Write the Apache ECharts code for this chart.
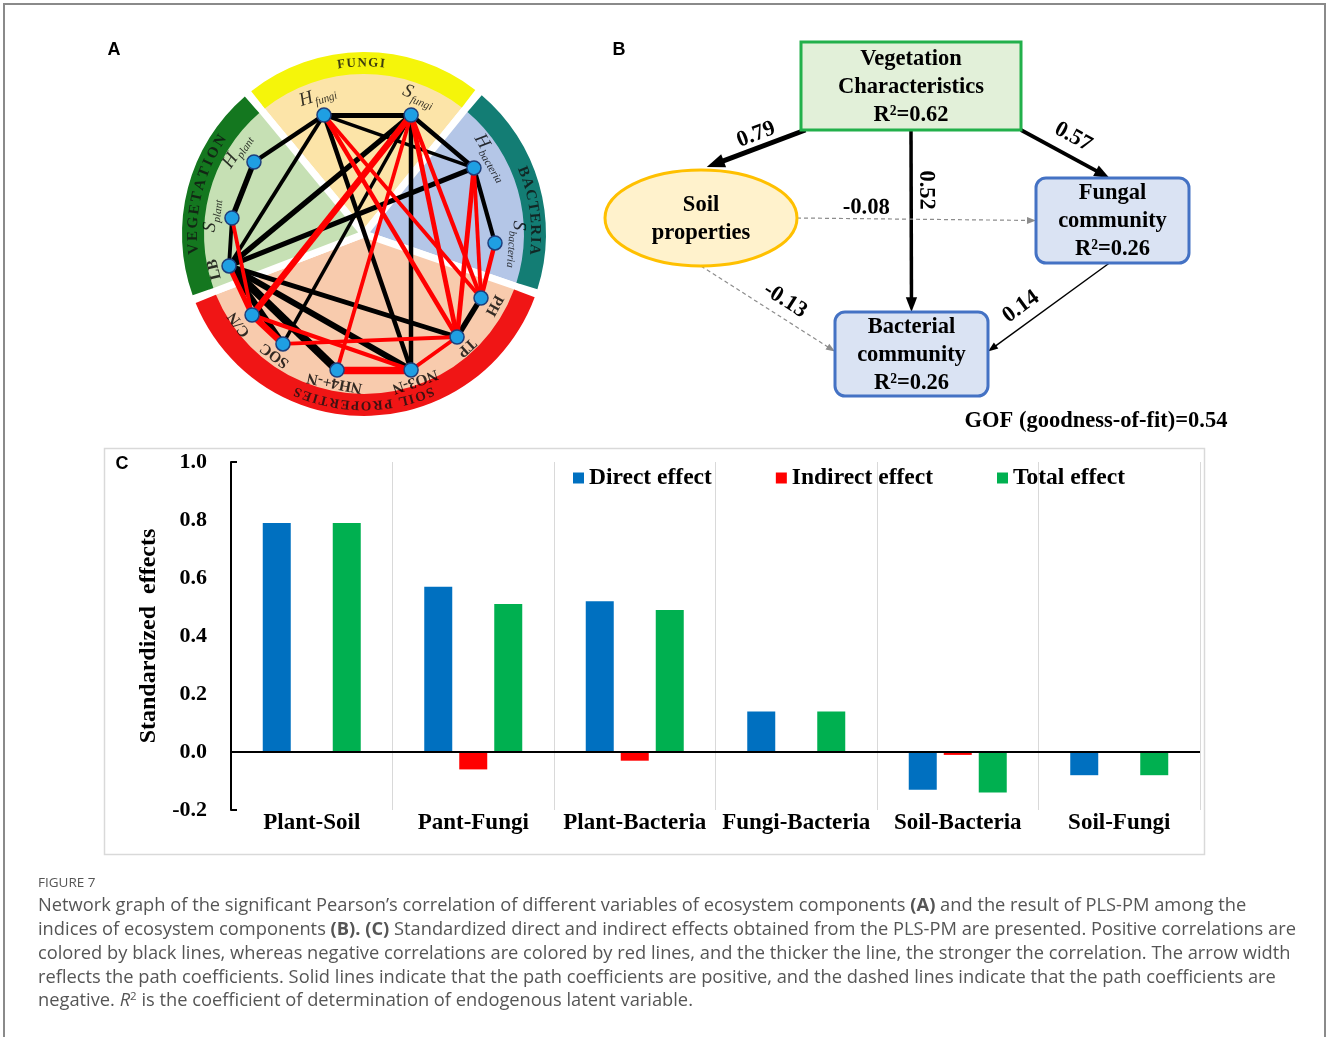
<!DOCTYPE html>
<html>
<head>
<meta charset="utf-8">
<script src="https://cdn.jsdelivr.net/npm/echarts@6/dist/echarts.min.js"></script>
<style>
  html, body { margin: 0; padding: 0; background: #ffffff; }
  #main { width: 1328px; height: 1037px; }
</style>
</head>
<body>
<div id="main"></div>
<script>
// ---------------- Panel A: correlation network ----------------
const groupNames = ['FUNGI', 'BACTERIA', 'SOIL PROPERTIES', 'VEGETATION'];
const groupSpans = [78.6, 70, 140, 71.4];          // degrees, clockwise from groupStart
const groupStart = 129.6;
const groupLabelAngle = [91, 8, 270, 166];
const groupLabelSize = [13, 15, 13.5, 15];
const groupLabelSpacing = [1.5, 1.5, 1.5, 2.5];
const bandColors = ['#f5f50a', '#137d74', '#f01515', '#14771f'];
const paleColors = ['#fce4a8', '#b4c6e7', '#f8cbad', '#c6e0b4'];

const netNodes  = ['Hf', 'Sf', 'Hb', 'Sb', 'PH', 'TP', 'NO3', 'NH4', 'SOC', 'CN', 'LB', 'Sp', 'Hp'];
const netRadius = [125.5, 128, 128.3, 131.3, 133.4, 138.8, 143.9, 138.7, 136.6, 138.2, 138.7, 133, 131.5];
const netAngle  = [108.6, 68.4, 31.0, 356.1, 331.3, 312.1, 289.1, 258.8, 233.6, 215.9, 193.3, 173.1, 146.8];
const netLabels = [
  '{i|H}{s|fungi}', '{i|S}{s|fungi}', '{i|H}{s|bacteria}', '{i|S}{s|bacteria}',
  '{b|PH}', '{b|TP}', '{b|NO3-N}', '{b|NH4+-N}', '{b|SOC}', '{b|C/N}', '{b|LB}',
  '{i|S}{s|plant}', '{i|H}{s|plant}'
];
// [source, target, Pearson r] : sign gives colour, magnitude gives width
const netLinks = [
  ['Hf', 'Sf', 0.72], ['Hf', 'Hp', 0.70], ['Hf', 'LB', 0.66], ['Hf', 'Hb', 0.64], ['Hf', 'NO3', 0.70],
  ['Sf', 'Hb', 0.70], ['Sf', 'LB', 0.76], ['Sf', 'SOC', 0.64], ['Sf', 'NO3', 0.70],
  ['Hb', 'LB', 0.74], ['Hb', 'Sb', 0.68], ['PH', 'TP', 0.76], ['Hp', 'Sp', 0.76], ['Sp', 'LB', 0.66],
  ['LB', 'TP', 0.72], ['LB', 'NO3', 0.80], ['LB', 'NH4', 0.92], ['LB', 'SOC', 0.80],
  ['Hf', 'TP', -0.70], ['Hf', 'PH', -0.66], ['Sf', 'TP', -0.72], ['Sf', 'PH', -0.68],
  ['Sf', 'CN', -0.82], ['Sf', 'NH4', -0.66], ['Hb', 'TP', -0.72], ['Hb', 'PH', -0.66],
  ['Sb', 'PH', -0.70], ['Sp', 'CN', -0.66], ['LB', 'CN', -0.74], ['CN', 'SOC', -0.82],
  ['CN', 'NO3', -0.68], ['SOC', 'TP', -0.66], ['NH4', 'NO3', -0.88], ['NO3', 'TP', -0.66]
];

// ---------------- Panel B: PLS-PM path model ----------------
const pathNodeIds   = ['veg', 'soil', 'fungal', 'bact'];
const pathNodeText  = [
  ['Vegetation', 'Characteristics', 'R²=0.62'],
  ['Soil', 'properties'],
  ['Fungal', 'community', 'R²=0.26'],
  ['Bacterial', 'community', 'R²=0.26']
];
const pathFrom = ['veg', 'veg', 'veg', 'soil', 'soil', 'fungal'];
const pathTo   = ['soil', 'fungal', 'bact', 'fungal', 'bact', 'bact'];
const pathCoef = [0.79, 0.57, 0.52, -0.08, -0.13, 0.14];
const gofText  = 'GOF (goodness-of-fit)=0.54';

// ---------------- Panel C: standardized effects ----------------
const effectCategories = ['Plant-Soil', 'Pant-Fungi', 'Plant-Bacteria', 'Fungi-Bacteria', 'Soil-Bacteria', 'Soil-Fungi'];
const directEffect   = [0.79, 0.57, 0.52, 0.14, -0.13, -0.08];
const indirectEffect = [0, -0.06, -0.03, 0, -0.01, 0];
const totalEffect    = [0.79, 0.51, 0.49, 0.14, -0.14, -0.08];
const effectTicks    = [-0.2, 0, 0.2, 0.4, 0.6, 0.8, 1.0];

// ---------------- layout / style ----------------
const SERIF = '"Liberation Serif", "Times New Roman", serif';
const SANS = '"Liberation Sans", Arial, sans-serif';
const POLAR_C = [364, 234];
const POLAR_R = 182;

const n360 = a => ((a % 360) + 360) % 360;
const nrot = a => { a = n360(a); return a > 180 ? a - 360 : a; };

// node boxes of the path diagram in diagram units [x0, y0, x1, y1]
const pathBoxes = {
  veg:    { box: [201, 12, 421, 100], kind: 'rect',    fill: '#e2f0d9', stroke: '#22b04b' },
  soil:   { box: [5, 140, 197, 236],  kind: 'ellipse', fill: '#fff2cc', stroke: '#ffc000' },
  fungal: { box: [436, 148, 589, 233], kind: 'round',  fill: '#dae3f3', stroke: '#4472c4' },
  bact:   { box: [235, 282, 388, 366], kind: 'round',  fill: '#dae3f3', stroke: '#4472c4' }
};
// anchor fractions on source / target box for each path
const pathAnchors = [
  [[0.02, 1], [0.53, -0.03]],
  [[1, 1], [0.48, 0]],
  [[0.5, 1], [0.5, 0]],
  [[1, 0.5], [0, 0.5]],
  [[0.5, 1], [0, 0.47]],
  [[0.48, 1], [1, 0.47]]
];
// coefficient label: [fraction along path, dx, dy]
const pathLabelPos = [
  [0.5, 0, -14], [0.5, 8, -17], [0.33, 15, 0], [0.29, 0, -11], [0.59, 5, -16], [0.63, -12, -12]
];
const B_FONT = 22.5;

function anchorOf(id, f) {
  const b = pathBoxes[id].box;
  return [b[0] + (b[2] - b[0]) * f[0], b[1] + (b[3] - b[1]) * f[1]];
}

// characters of the group names laid along the outer ring
const mctx = document.createElement('canvas').getContext('2d');
function arcText(text, midAngle, r, size, spacing) {
  mctx.font = 'bold ' + size + 'px ' + SERIF;
  const chars = Array.from(text);
  const widths = chars.map(c => mctx.measureText(c).width);
  const total = widths.reduce((a, b) => a + b, 0) + spacing * (chars.length - 1);
  let s = -total / 2;
  const out = [];
  chars.forEach((c, i) => {
    const mid = s + widths[i] / 2;
    const ang = midAngle - mid / r * 180 / Math.PI;
    if (c !== ' ') {
      out.push({ value: [r, n360(ang)], ch: c, label: { rotate: nrot(ang - 90), fontSize: size } });
    }
    s += widths[i] + spacing;
  });
  return out;
}
let ringChars = [];
groupNames.forEach((g, i) => {
  ringChars = ringChars.concat(arcText(g, groupLabelAngle[i], 171, groupLabelSize[i], groupLabelSpacing[i]));
});

const labelGap = { Hf: 20, Sf: 20, Hb: 20, Sb: 22, PH: 15, TP: 14, NO3: 12, NH4: 13, SOC: 14, CN: 16, LB: 15, Sp: 20, Hp: 20 };

const chart = echarts.init(document.getElementById('main'), null, { renderer: 'canvas' });

const captionLines = [
  'Network graph of the significant Pearson’s correlation of different variables of ecosystem components {b|(A)} and the result of PLS-PM among the',
  'indices of ecosystem components {b|(B). (C)} Standardized direct and indirect effects obtained from the PLS-PM are presented. Positive correlations are',
  'colored by black lines, whereas negative correlations are colored by red lines, and the thicker the line, the stronger the correlation. The arrow width',
  'reflects the path coefficients. Solid lines indicate that the path coefficients are positive, and the dashed lines indicate that the path coefficients are',
  'negative. {i|R}{sup|2} is the coefficient of determination of endogenous latent variable.'
];
const CAP_FONT = '"Open Sans", "Noto Sans", sans-serif';
// caption size chosen so the first line fills the text column
mctx.font = '16.5px ' + CAP_FONT;
const capPlain = captionLines[0].replace(/\{\w+\|([^}]*)\}/g, '$1');
const CAP_SIZE = Math.round(16.5 * 1206 / mctx.measureText(capPlain).width * 10) / 10;

const graphics = [
  { type: 'rect', shape: { x: 4, y: 4, width: 1321, height: 1100 }, style: { fill: 'none', stroke: '#8a8a8a', lineWidth: 2 }, silent: true, z: 0 },
  { type: 'rect', shape: { x: 104.5, y: 448.5, width: 1100, height: 406 }, style: { fill: 'none', stroke: '#d9d9d9', lineWidth: 1.5 }, silent: true, z: 0 },
  { type: 'text', x: 114, y: 50, style: { text: 'A', fontFamily: SANS, fontWeight: 'bold', fontSize: 18, fill: '#000', align: 'center', verticalAlign: 'middle' } },
  { type: 'text', x: 619, y: 50, style: { text: 'B', fontFamily: SANS, fontWeight: 'bold', fontSize: 18, fill: '#000', align: 'center', verticalAlign: 'middle' } },
  { type: 'text', x: 122, y: 464, style: { text: 'C', fontFamily: SANS, fontWeight: 'bold', fontSize: 18, fill: '#000', align: 'center', verticalAlign: 'middle' } },
  { type: 'text', x: 1096, y: 421, style: { text: gofText, fontFamily: SERIF, fontWeight: 'bold', fontSize: 22.5, fill: '#000', align: 'center', verticalAlign: 'middle' } },
  { type: 'text', x: 38, y: 883, style: { text: 'FIGURE 7', fontFamily: CAP_FONT, fontSize: 13.5, fill: '#555', verticalAlign: 'middle' } }
];
captionLines.forEach((t, i) => {
  graphics.push({
    type: 'text', x: 38, y: 906 + i * 23.8,
    style: {
      text: t, fontFamily: CAP_FONT, fontSize: CAP_SIZE, fill: '#555', verticalAlign: 'middle',
      rich: {
        b: { fontFamily: CAP_FONT, fontSize: CAP_SIZE, fontWeight: 'bold', fill: '#555' },
        i: { fontFamily: CAP_FONT, fontSize: CAP_SIZE, fontStyle: 'italic', fill: '#555' },
        sup: { fontFamily: CAP_FONT, fontSize: 11.5, fill: '#555', verticalAlign: 'top', padding: [0, 0, 8, 0] }
      }
    }
  });
});

const option = {
  animation: false,
  backgroundColor: '#ffffff',
  graphic: { elements: graphics },
  legend: {
    data: ['Direct effect', 'Indirect effect', 'Total effect'],
    left: 568, top: 461, icon: 'rect', itemWidth: 11, itemHeight: 11, itemGap: 64,
    textStyle: { fontFamily: SERIF, fontWeight: 'bold', fontSize: 23.5, color: '#000' },
    selectedMode: false
  },
  polar: { center: POLAR_C, radius: POLAR_R },
  angleAxis: { type: 'value', min: 0, max: 360, startAngle: 0, clockwise: false, show: false },
  radiusAxis: { type: 'value', min: 0, max: POLAR_R, show: false },
  grid: [
    { left: 231, top: 462, width: 969, height: 348, containLabel: false },
    { left: 600, top: 30, width: 640, height: 400, containLabel: false }
  ],
  xAxis: [
    {
      type: 'category', gridIndex: 0, data: effectCategories,
      axisLine: { show: false, onZero: false }, axisTick: { show: false },
      splitLine: { show: true, lineStyle: { color: '#d9d9d9', width: 1 } },
      axisLabel: { fontFamily: SERIF, fontWeight: 'bold', fontSize: 23, color: '#000', margin: 2, interval: 0 }
    },
    { type: 'value', gridIndex: 1, min: 0, max: 640, show: false }
  ],
  yAxis: [
    {
      type: 'value', gridIndex: 0, min: -0.2, max: 1.0, interval: 0.2,
      name: 'Standardized\u2002effects', nameLocation: 'middle', nameGap: 64, nameRotate: 90,
      nameTextStyle: { fontFamily: SERIF, fontWeight: 'bold', fontSize: 24, color: '#000' },
      axisLine: { show: true, lineStyle: { color: '#000', width: 2 } },
      axisTick: { show: true, inside: true, length: 6, lineStyle: { color: '#000', width: 2 }, customValues: [-0.2, 1.0] },
      splitLine: { show: false },
      axisLabel: { fontFamily: SERIF, fontWeight: 'bold', fontSize: 22, color: '#000', margin: 24, formatter: v => v.toFixed(1), customValues: effectTicks }
    },
    { type: 'value', gridIndex: 1, min: 0, max: 400, inverse: true, show: false }
  ],
  series: [
    // ring: pale sectors and coloured band
    {
      type: 'pie', center: POLAR_C, radius: [0, 168], startAngle: groupStart, clockwise: true,
      silent: true, z: 1, label: { show: false }, labelLine: { show: false },
      itemStyle: { borderColor: '#ffffff', borderWidth: 7 },
      data: groupSpans.map((v, i) => ({ value: v, name: groupNames[i] + ' area', itemStyle: { color: paleColors[i] } }))
    },
    {
      type: 'pie', center: POLAR_C, radius: [160, POLAR_R], startAngle: groupStart, clockwise: true, padAngle: 2.6,
      silent: true, z: 2, label: { show: false }, labelLine: { show: false },
      data: groupSpans.map((v, i) => ({ value: v, name: groupNames[i], itemStyle: { color: bandColors[i] } }))
    },
    {
      type: 'scatter', coordinateSystem: 'polar', polarIndex: 0, silent: true, z: 3,
      symbolSize: 1, itemStyle: { color: 'rgba(0,0,0,0)' },
      label: { show: true, position: 'inside', formatter: p => p.data.ch, fontFamily: SERIF, fontWeight: 'bold', color: '#111' },
      data: ringChars
    },
    {
      type: 'graph', coordinateSystem: 'polar', polarIndex: 0, layout: 'none', z: 5, silent: true,
      symbol: 'circle', symbolSize: 14,
      itemStyle: { color: '#1f9fe3', borderColor: '#1f3f7c', borderWidth: 1.5 },
      lineStyle: { opacity: 1, curveness: 0 },
      label: { show: false },
      data: netNodes.map((id, i) => ({ name: id, value: [netRadius[i], netAngle[i]] })),
      links: netLinks.map(([s, t, r]) => ({
        source: s, target: t,
        lineStyle: { color: r > 0 ? '#000000' : '#ff0000', width: 16 * (Math.abs(r) - 0.42) }
      }))
    },
    {
      type: 'scatter', coordinateSystem: 'polar', polarIndex: 0, silent: true, z: 6,
      symbolSize: 1, itemStyle: { color: 'rgba(0,0,0,0)' },
      label: {
        show: true, position: 'inside', formatter: p => p.data.txt, color: '#000',
        rich: {
          i: { fontFamily: SERIF, fontStyle: 'italic', fontSize: 19, color: '#000', lineHeight: 20, verticalAlign: 'top' },
          s: { fontFamily: SERIF, fontStyle: 'italic', fontSize: 11, color: '#000', lineHeight: 12, verticalAlign: 'top', padding: [10, 0, 0, 1] },
          b: { fontFamily: SERIF, fontWeight: 'bold', fontSize: 15.5, color: '#000' }
        }
      },
      data: netNodes.map((id, i) => ({
        value: [netRadius[i] + labelGap[id], netAngle[i]], txt: netLabels[i],
        label: { rotate: nrot(netAngle[i] - 90) }
      }))
    },
    // path model
    {
      type: 'custom', xAxisIndex: 1, yAxisIndex: 1, silent: true, z: 3,
      data: pathCoef.map((c, i) => [i, 0]),
      renderItem: function (params, api) {
        const i = params.dataIndex;
        const c = pathCoef[i];
        const p = api.coord(anchorOf(pathFrom[i], pathAnchors[i][0]));
        const q = api.coord(anchorOf(pathTo[i], pathAnchors[i][1]));
        const neg = c < 0;
        const w = neg ? 1.2 : 0.6 + 5.6 * Math.abs(c);
        const color = neg ? '#8c8c8c' : '#000000';
        const dx = q[0] - p[0], dy = q[1] - p[1];
        const L = Math.hypot(dx, dy), ux = dx / L, uy = dy / L;
        const hl = neg ? 9 : 7 + 2.2 * w;
        const hw = neg ? 7 : 5 + 1.8 * w;
        const bx = q[0] - ux * hl, by = q[1] - uy * hl;
        let ang = Math.atan2(-dy, dx);
        if (ang > Math.PI / 2) ang -= Math.PI;
        if (ang < -Math.PI / 2) ang += Math.PI;
        const lp = pathLabelPos[i];
        return {
          type: 'group',
          children: [
            { type: 'line', shape: { x1: p[0], y1: p[1], x2: bx + ux, y2: by + uy }, style: { stroke: color, lineWidth: w, lineDash: neg ? [4, 3] : null } },
            { type: 'polygon', shape: { points: [[q[0], q[1]], [bx - uy * hw / 2, by + ux * hw / 2], [bx + uy * hw / 2, by - ux * hw / 2]] }, style: { fill: color } },
            {
              type: 'text', x: p[0] + dx * lp[0] + lp[1], y: p[1] + dy * lp[0] + lp[2], rotation: ang,
              style: { text: c.toFixed(2), fontFamily: SERIF, fontWeight: 'bold', fontSize: B_FONT, fill: '#000', align: 'center', verticalAlign: 'middle' }
            }
          ]
        };
      }
    },
    {
      type: 'custom', xAxisIndex: 1, yAxisIndex: 1, silent: true, z: 4,
      data: pathNodeIds.map((id, i) => [i, 0]),
      renderItem: function (params, api) {
        const id = pathNodeIds[params.dataIndex];
        const n = pathBoxes[id];
        const p0 = api.coord([n.box[0], n.box[1]]), p1 = api.coord([n.box[2], n.box[3]]);
        const x = Math.min(p0[0], p1[0]), y = Math.min(p0[1], p1[1]);
        const w = Math.abs(p1[0] - p0[0]), h = Math.abs(p1[1] - p0[1]);
        const style = { fill: n.fill, stroke: n.stroke, lineWidth: 3 };
        const shape = n.kind === 'ellipse'
          ? { type: 'ellipse', shape: { cx: x + w / 2, cy: y + h / 2, rx: w / 2, ry: h / 2 }, style }
          : { type: 'rect', shape: { x, y, width: w, height: h, r: n.kind === 'round' ? 10 : 0 }, style };
        return {
          type: 'group',
          children: [
            shape,
            {
              type: 'text', x: x + w / 2, y: y + h / 2 + 1,
              style: { text: pathNodeText[params.dataIndex].join('\n'), fontFamily: SERIF, fontWeight: 'bold', fontSize: B_FONT, lineHeight: 28, fill: '#000', align: 'center', verticalAlign: 'middle' }
            }
          ]
        };
      }
    },
    // effects
    {
      name: 'Direct effect', type: 'bar', xAxisIndex: 0, yAxisIndex: 0, data: directEffect,
      barWidth: 28, barGap: '25%', itemStyle: { color: '#0070c0' }, silent: true, z: 3,
      markLine: {
        silent: true, symbol: 'none', label: { show: false },
        lineStyle: { color: '#000', width: 2, type: 'solid' }, data: [{ yAxis: 0 }]
      }
    },
    { name: 'Indirect effect', type: 'bar', xAxisIndex: 0, yAxisIndex: 0, data: indirectEffect, barWidth: 28, barGap: '25%', itemStyle: { color: '#ff0000' }, silent: true, z: 3 },
    { name: 'Total effect', type: 'bar', xAxisIndex: 0, yAxisIndex: 0, data: totalEffect, barWidth: 28, barGap: '25%', itemStyle: { color: '#00b050' }, silent: true, z: 3 }
  ]
};
chart.setOption(option);
</script>
</body>
</html>
